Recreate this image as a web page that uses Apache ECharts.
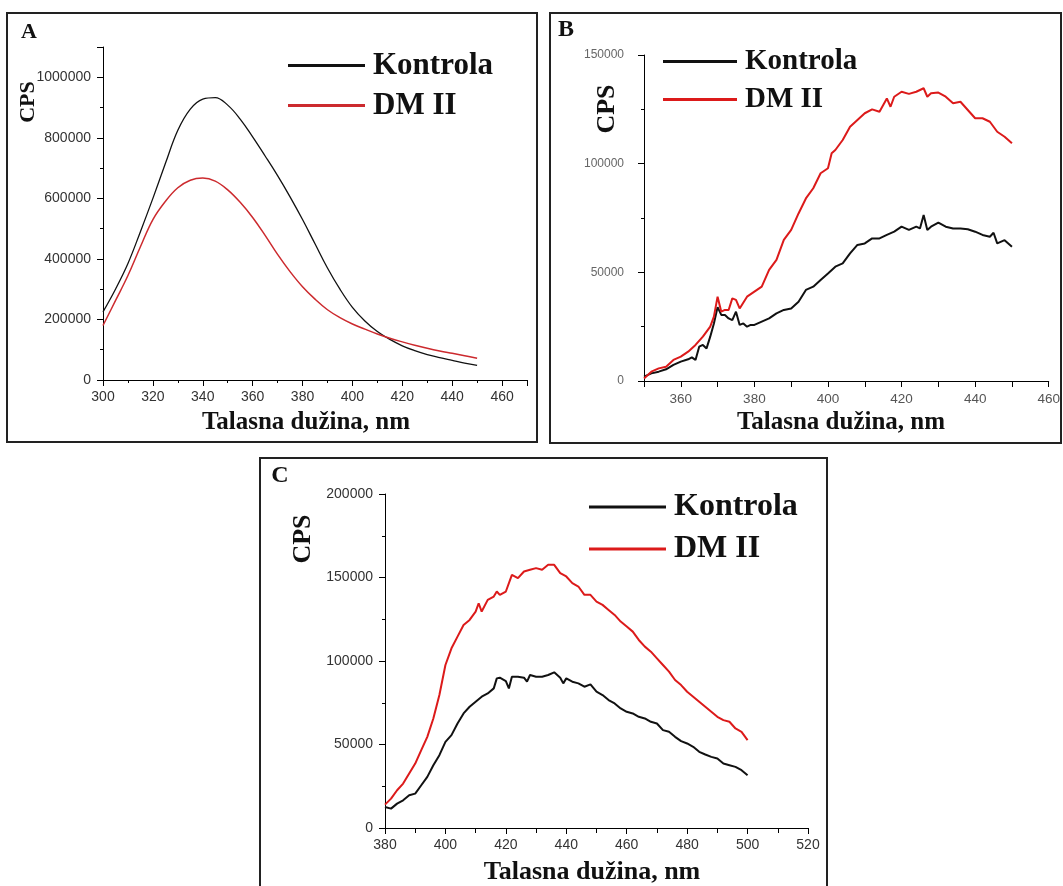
<!DOCTYPE html>
<html>
<head>
<meta charset="utf-8">
<script src="https://cdn.jsdelivr.net/npm/echarts@6/dist/echarts.min.js"></script>
<style>
html,body{margin:0;padding:0;background:#fff;}
#chart{width:1063px;height:886px;}
</style>
</head>
<body>
<div id="chart"></div>
<script>
// ---------- Panel A ----------
const aWave = [300,305,310,315,320,325,330,335,340,345,350,355,360,365,370,375,380,385,390,395,400,405,410,415,420,425,430,435,440,445,450];
const aKontrola = [225000,300000,385000,490000,600000,715000,825000,895000,928000,933000,908000,862000,803000,740000,675000,605000,530000,450000,370000,300000,240000,195000,160000,134000,113000,97000,84000,74000,65000,56000,48000];
const aDM = [180000,262000,345000,440000,530000,590000,635000,660000,667000,657000,628000,587000,537000,478000,415000,358000,308000,267000,232000,206000,185000,168000,152000,138000,126000,115000,105000,96000,88000,80000,72000];

// ---------- Panel B ----------
const bWaveK = [350,352,354,356,358,360,362,363,364,365,366,367,368,369,370,371,372,373,374,375,376,377,378,379,380,382,384,386,388,390,392,394,396,398,400,402,404,406,408,410,412,414,416,418,420,422,424,425,426,427,428,430,432,434,436,438,440,442,444,445,446,448,450];
const bKontrola = [2000,3500,4300,5400,7400,8900,10000,10900,9700,15800,16600,15000,20400,26500,34000,30400,30400,28800,28000,31900,25800,26500,25000,25800,25800,27300,28800,31100,32700,33400,36500,41900,43400,46500,49500,52600,54100,58700,62600,63300,65600,65600,67200,68700,71000,69500,71000,70200,76400,69500,71000,72900,71000,70200,70200,69800,68700,67200,66400,68200,63300,64800,61800];
const bWaveD = [350,352,354,356,358,360,362,364,366,368,369,370,371,372,373,374,375,376,378,380,382,384,386,388,390,392,394,396,398,400,401,402,404,406,408,410,412,414,416,417,418,420,422,424,426,427,428,430,432,434,436,438,440,442,444,446,448,450];
const bDM = [1200,4300,5800,6600,9700,11200,13500,16600,20400,25000,29600,38800,31900,32700,32700,38000,37300,33400,38800,41100,43400,51100,55700,64900,69500,77100,84000,88700,95600,97900,104800,106300,110900,117000,120100,123200,125000,123900,130000,126200,130800,133100,132100,133100,134700,130800,132400,132700,130800,127800,128500,124700,120900,120900,119300,114700,112400,109400];

// ---------- Panel C ----------
const cWaveK = [380,382,384,386,388,390,392,394,396,398,400,402,404,406,408,410,412,414,416,417,418,420,421,422,424,426,427,428,430,432,434,436,438,439,440,442,444,446,448,450,452,454,456,458,460,462,464,466,468,470,472,474,476,478,480,482,484,486,488,490,492,494,496,498,500];
const cKontrola = [12600,11600,14600,16600,19600,20600,25600,30600,37600,43600,51600,55600,62600,68600,72600,75600,78600,80600,83600,89600,90000,88000,83600,90600,90600,90000,87600,91600,90600,90600,91600,93200,90000,86600,89600,87600,86600,84600,86000,81600,79600,76600,74600,71600,69600,68600,66600,65600,63600,62600,58600,57600,54600,52000,50600,48600,45600,44000,42600,41600,38600,37600,36600,34600,31600];
const cWaveD = [380,382,384,386,388,390,392,394,396,398,400,402,404,406,408,410,411,412,414,416,417,418,420,422,424,426,428,430,432,434,436,438,440,442,444,446,448,450,452,454,456,458,460,462,464,466,468,470,472,474,476,478,480,482,484,486,488,490,492,494,496,498,500];
const cDM = [14000,17600,22600,26600,32600,38600,46600,54600,65600,79600,97600,107600,114600,121600,124600,129600,134600,129600,136600,138600,141600,139600,141600,151600,149600,153600,154600,155600,154600,157600,157600,152600,150600,146600,144600,139600,139600,135600,133600,130600,127600,123600,120600,117600,112600,108600,105600,101600,97600,93600,88600,85600,81600,78600,75600,72600,69600,66600,64600,63600,59600,57600,52600];

// ---------- Text ----------
const seriesNames = ['Kontrola', 'DM II'];
const xTitle = 'Talasna dužina, nm';
const yTitle = 'CPS';
const panelLetters = ['A', 'B', 'C'];

const zip = (xs, ys) => xs.map((x, i) => [x, ys[i]]);
const plain = v => String(v);
const BLACK = '#111111';
const RED = '#dc1a1a';
const RED_A = '#cc2a2e';
const serif = '"Liberation Serif", "Times New Roman", serif';
const sans = '"Liberation Sans", Arial, sans-serif';

function mkY(gi, max, interval, fs, color, margin) {
  return {
    gridIndex: gi, type: 'value', min: 0, max: max, interval: interval,
    splitLine: {show: false},
    axisLine: {show: true, lineStyle: {color: '#000', width: 1}},
    axisTick: {show: true, length: 6, lineStyle: {color: '#000'}},
    minorTick: {show: true, splitNumber: 2, length: 3, lineStyle: {color: '#000'}},
    axisLabel: {formatter: plain, fontSize: fs, color: color, fontFamily: sans, margin: margin, showMaxLabel: max % interval === 0}
  };
}

const legendBase = (left, top, iw, fs, gap) => ({
  left: left, top: top, orient: 'vertical', padding: 0,
  itemWidth: iw, itemHeight: 3, itemGap: gap, icon: 'rect',
  selectedMode: false,
  textStyle: {fontFamily: serif, fontWeight: 'bold', fontSize: fs, lineHeight: fs, color: '#111', padding: [0, 0, 0, 3]},
  data: [{name: seriesNames[0], itemStyle: {color: BLACK}}, {name: seriesNames[1], itemStyle: {color: RED}}]
});

function txt(x, y, s, fs, rot) {
  return {type: 'text', x: x, y: y, rotation: rot || 0,
    style: {text: s, fontFamily: serif, fontWeight: 'bold', fontSize: fs, fill: '#111', align: 'center', verticalAlign: 'middle'}};
}
function box(x1, y1, x2, y2) {
  return {type: 'rect', shape: {x: x1, y: y1, width: x2 - x1, height: y2 - y1},
    style: {fill: null, stroke: '#222', lineWidth: 2}, z: 100};
}

const chart = echarts.init(document.getElementById('chart'), null, {renderer: 'canvas'});
chart.setOption({
  animation: false,
  backgroundColor: '#ffffff',
  grid: [
    {left: 103, top: 47, width: 424, height: 333},
    {left: 644, top: 55, width: 410, height: 326},
    {left: 385, top: 494, width: 423, height: 334}
  ],
  xAxis: [
    {gridIndex: 0, type: 'value', min: 300, max: 470, interval: 20,
     splitLine: {show: false},
     axisLine: {onZero: false, lineStyle: {color: '#000'}},
     axisTick: {length: 6, lineStyle: {color: '#000'}},
     minorTick: {show: true, splitNumber: 2, length: 3, lineStyle: {color: '#000'}},
     axisLabel: {formatter: plain, fontSize: 14, color: '#333', fontFamily: sans, margin: 10, showMaxLabel: false}},
    {gridIndex: 1, type: 'value', min: 350, max: 460, interval: 10,
     splitLine: {show: false},
     axisLine: {onZero: false, lineStyle: {color: '#000'}},
     axisTick: {length: 6, lineStyle: {color: '#000'}},
     axisLabel: {formatter: v => (v % 20 === 0 ? String(v) : ''), fontSize: 13.5, color: '#555', fontFamily: sans, margin: 11}},
    {gridIndex: 2, type: 'value', min: 380, max: 520, interval: 20,
     splitLine: {show: false},
     axisLine: {onZero: false, lineStyle: {color: '#000'}},
     axisTick: {length: 6, lineStyle: {color: '#000'}},
     minorTick: {show: true, splitNumber: 2, length: 5, lineStyle: {color: '#000'}},
     axisLabel: {formatter: plain, fontSize: 14, color: '#333', fontFamily: sans, margin: 10}}
  ],
  yAxis: [
    mkY(0, 1100000, 200000, 14, '#333', 12),
    mkY(1, 150000, 50000, 12, '#666', 20),
    mkY(2, 200000, 50000, 14, '#333', 12)
  ],
  legend: [
    Object.assign(legendBase(288, 50, 77, 31, 9), {data: [{name: seriesNames[0], itemStyle: {color: BLACK}}, {name: seriesNames[1], itemStyle: {color: RED_A}}]}),
    legendBase(663, 47, 74, 29, 9),
    legendBase(589, 491, 77, 32, 10)
  ],
  series: [
    {name: seriesNames[0], type: 'line', xAxisIndex: 0, yAxisIndex: 0, data: zip(aWave, aKontrola), showSymbol: false, smooth: 0.4, lineStyle: {color: BLACK, width: 1.3}, itemStyle: {color: BLACK}},
    {name: seriesNames[1], type: 'line', xAxisIndex: 0, yAxisIndex: 0, data: zip(aWave, aDM), showSymbol: false, smooth: 0.4, lineStyle: {color: RED_A, width: 1.5}, itemStyle: {color: RED_A}},
    {name: seriesNames[0], type: 'line', xAxisIndex: 1, yAxisIndex: 1, data: zip(bWaveK, bKontrola), showSymbol: false, lineStyle: {color: BLACK, width: 2}, itemStyle: {color: BLACK}},
    {name: seriesNames[1], type: 'line', xAxisIndex: 1, yAxisIndex: 1, data: zip(bWaveD, bDM), showSymbol: false, lineStyle: {color: RED, width: 2}, itemStyle: {color: RED}},
    {name: seriesNames[0], type: 'line', xAxisIndex: 2, yAxisIndex: 2, data: zip(cWaveK, cKontrola), showSymbol: false, lineStyle: {color: BLACK, width: 2}, itemStyle: {color: BLACK}},
    {name: seriesNames[1], type: 'line', xAxisIndex: 2, yAxisIndex: 2, data: zip(cWaveD, cDM), showSymbol: false, lineStyle: {color: RED, width: 2}, itemStyle: {color: RED}}
  ],
  graphic: [
    box(7, 13, 537, 442),
    box(550, 13, 1061, 443),
    box(260, 458, 827, 892),
    txt(29, 32, panelLetters[0], 22),
    txt(566, 30, panelLetters[1], 24),
    txt(280, 476, panelLetters[2], 24),
    txt(28, 102, yTitle, 22, Math.PI / 2),
    txt(607, 109, yTitle, 26, Math.PI / 2),
    txt(303, 539, yTitle, 26, Math.PI / 2),
    txt(306, 423, xTitle, 25),
    txt(841, 423, xTitle, 25),
    txt(592, 872, xTitle, 26)
  ]
});
</script>
</body>
</html>
